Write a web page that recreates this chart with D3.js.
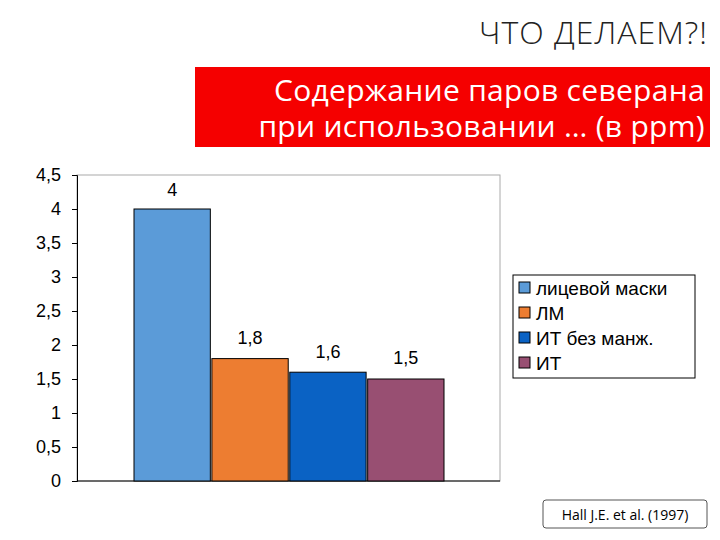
<!DOCTYPE html><html><head><meta charset="utf-8"><script src="https://cdn.jsdelivr.net/npm/d3@7"></script>
<style>body{margin:0;background:#fff}</style></head><body><svg id="c" width="720" height="540"></svg>
<script>
const categories=["лицевой маски","ЛМ","ИТ без манж.","ИТ"];
const values=[4,1.8,1.6,1.5];
const valueLabels=["4","1,8","1,6","1,5"];
const colors=["#5b9bd8","#ed7d31","#0a62c4","#984f72"];
const ticks=[0,0.5,1,1.5,2,2.5,3,3.5,4,4.5];
const svg=d3.select("#c");
svg.append("text").attr("x",708).attr("y",44).attr("text-anchor","end").attr("font-family","Open Sans").attr("font-weight",300).attr("font-size",32).attr("letter-spacing",1).attr("fill","#222").text("ЧТО  ДЕЛАЕМ?!");
svg.append("rect").attr("x",195).attr("y",67).attr("width",515).attr("height",80).attr("fill","#f50000");
["Содержание паров северана","при использовании … (в ppm)"].forEach((t,i)=>svg.append("text").attr("x",705).attr("y",101+i*36).attr("text-anchor","end").attr("font-family","Open Sans").attr("font-size",30).attr("letter-spacing",0.3).attr("fill","#fff").text(t));
const y=d3.scaleLinear().domain([0,4.5]).range([481,175]);
const x=d3.scaleBand().domain(categories).range([134,444]).paddingInner(0.02);
const g=svg.append("g").attr("font-family","Liberation Sans");
g.append("rect").attr("x",77).attr("y",175).attr("width",423).attr("height",306).attr("fill","none").attr("stroke","#aaa");
const ax=g.append("g").attr("transform","translate(77,0)").call(d3.axisLeft(y).tickValues(ticks).tickSize(5).tickFormat(d=>String(d).replace(".",",")));
ax.selectAll("text").attr("font-size",18).attr("fill","#000").attr("dx",-8).attr("font-family","Liberation Sans");
ax.selectAll("line,path").attr("stroke","#000");
g.append("line").attr("x1",77).attr("x2",500).attr("y1",481).attr("y2",481).attr("stroke","#000");
g.selectAll(".b").data(values).join("rect").attr("x",(d,i)=>x(categories[i])).attr("width",x.bandwidth()).attr("y",d=>y(d)).attr("height",d=>481-y(d)).attr("fill",(d,i)=>colors[i]).attr("stroke","#000");
const lblOff=[-13,-15,-14,-15];
g.selectAll(".l").data(values).join("text").attr("x",(d,i)=>x(categories[i])+x.bandwidth()/2).attr("y",(d,i)=>y(d)+lblOff[i]).attr("text-anchor","middle").attr("font-size",18).text((d,i)=>valueLabels[i]);
g.append("rect").attr("x",513).attr("y",275).attr("width",182).attr("height",103).attr("fill","#fff").attr("stroke","#000");
categories.forEach((c,i)=>{g.append("rect").attr("x",519).attr("y",282+i*25).attr("width",11).attr("height",11).attr("fill",colors[i]).attr("stroke","#000");
g.append("text").attr("x",536).attr("y",295+i*25).attr("font-size",19).text(c);});
svg.append("rect").attr("x",543).attr("y",500).attr("width",164).attr("height",28).attr("rx",3).attr("fill","#fff").attr("stroke","#555");
svg.append("text").attr("x",625).attr("y",520).attr("text-anchor","middle").attr("font-family","Open Sans").attr("font-size",14).text("Hall J.E. et al. (1997)");
</script></body></html>
